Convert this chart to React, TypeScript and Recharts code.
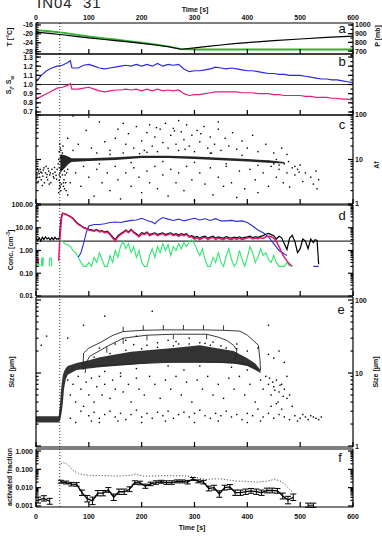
import React from 'react'
import { ComposedChart, Line, Scatter, Area, XAxis, YAxis, ReferenceLine, ErrorBar, LabelList } from 'recharts'

const FONT = '"Liberation Sans", Arial, Helvetica, sans-serif'
const TICK = { fontSize: 7, fontWeight: 700, fill: '#111', fontFamily: FONT }
const AX = { stroke: '#000', strokeWidth: 1.2 }
const M = 14
const THIN = 0.01
const INJECT_T = 45

const X_MAJOR = [0, 100, 200, 300, 400, 500, 600]
const X_MINOR = Array.from({ length: 31 }, (_, i) => i * 20)

// panel a: temperature (left) and pressure (right)
const tempT = [[0, -19.2], [25, -19.8], [50, -20.4], [75, -21.1], [100, -21.8], [125, -22.4], [150, -23.0], [175, -23.6], [200, -24.3], [225, -25.0], [250, -25.8], [275, -26.9], [300, -26.3], [325, -25.6], [350, -25.0], [375, -24.4], [400, -23.9], [450, -23.0], [500, -22.3], [550, -21.6], [600, -21.0]]
const pressP = [[0, 942], [25, 928], [50, 912], [75, 890], [100, 868], [125, 850], [150, 833], [175, 815], [200, 797], [225, 778], [250, 755], [275, 722], [300, 718], [600, 718]]
const T_TICKS = [-28, -24, -20, -16]
const P_TICKS = [700, 800, 900, 1000]

// panel b: saturation ratios
const sIce = [[0, 1.03], [10, 1.1], [20, 1.15], [30, 1.18], [40, 1.2], [50, 1.21], [60, 1.24], [65, 1.26], [68, 1.18], [80, 1.18], [90, 1.21], [100, 1.22], [110, 1.2], [120, 1.18], [130, 1.17], [140, 1.18], [150, 1.19], [160, 1.2], [170, 1.21], [180, 1.2], [190, 1.22], [200, 1.2], [210, 1.22], [220, 1.2], [230, 1.23], [240, 1.2], [250, 1.22], [260, 1.21], [270, 1.22], [280, 1.17], [290, 1.14], [300, 1.15], [310, 1.15], [320, 1.16], [330, 1.17], [340, 1.19], [350, 1.18], [360, 1.17], [370, 1.18], [380, 1.17], [390, 1.16], [400, 1.15], [410, 1.15], [420, 1.14], [430, 1.13], [440, 1.12], [450, 1.12], [460, 1.11], [470, 1.11], [480, 1.1], [500, 1.1], [510, 1.09], [520, 1.08], [530, 1.07], [540, 1.06], [550, 1.06], [560, 1.05], [570, 1.05], [580, 1.04], [590, 1.03], [600, 1.02]]
const sWat = [[0, 0.84], [10, 0.87], [20, 0.9], [30, 0.93], [40, 0.96], [50, 0.97], [60, 0.99], [65, 1.01], [68, 0.95], [80, 0.95], [90, 0.96], [100, 0.97], [110, 0.95], [120, 0.93], [130, 0.92], [140, 0.93], [150, 0.94], [160, 0.94], [170, 0.95], [180, 0.94], [190, 0.95], [200, 0.93], [210, 0.95], [220, 0.93], [230, 0.95], [240, 0.93], [250, 0.94], [260, 0.93], [270, 0.94], [280, 0.9], [290, 0.88], [300, 0.89], [310, 0.89], [320, 0.9], [330, 0.91], [340, 0.92], [380, 0.92], [390, 0.91], [410, 0.91], [420, 0.9], [440, 0.9], [450, 0.89], [460, 0.89], [470, 0.88], [500, 0.88], [510, 0.87], [520, 0.87], [530, 0.86], [550, 0.86], [560, 0.85], [570, 0.85], [580, 0.84], [590, 0.84], [600, 0.83]]
const S_TICKS = [0.7, 0.8, 0.9, 1.0, 1.1, 1.2, 1.3]
const S_MINOR = [0.7, 0.75, 0.8, 0.85, 0.9, 0.95, 1.0, 1.05, 1.1, 1.15, 1.2, 1.25, 1.3]

// panel c: asphericity factor
const afCore = [[46, 5, 13], [49, 5.5, 13], [55, 6.5, 12.5], [62, 8, 11.5], [67, 8.8, 10.6], [100, 9.3, 10.7], [150, 9.8, 11.2], [200, 10.8, 12.2], [250, 10.8, 12.2], [300, 10.3, 11.7], [350, 9.6, 10.9], [400, 9, 10.2], [440, 8.5, 9.6], [470, 8.1, 8.8]]
const afDots = [[2, 4.5], [4, 3.2], [5, 5.5], [7, 4], [8, 6], [10, 3.5], [11, 5], [13, 4.2], [15, 6.5], [16, 3], [18, 5], [20, 4], [22, 3.5], [24, 5.5], [26, 4.5], [28, 3], [30, 6], [32, 4.8], [34, 3.8], [36, 5.2], [38, 4.4], [40, 6], [12, 2.6], [25, 2.8], [1, 3.8], [19, 7], [6, 4.8], [14, 5.8], [21, 4.6], [27, 5], [33, 4.1], [39, 3.6], [3, 6.2], [9, 5.2], [23, 6.3], [35, 6.6],
  [43, 1.8], [44, 2.2], [45, 2.6], [44, 3.4], [46, 4], [45, 5], [47, 6], [44, 15], [46, 18], [45, 22], [48, 12], [47, 2.0], [52, 2.5], [53, 3.5], [54, 2.2], [55, 4.5], [50, 14], [51, 20], [42, 8], [43, 10], [56, 3], [57, 2], [60, 1.6], [58, 5], [44, 6.5], [45, 9], [46, 11], [44, 4.5], [45, 3], [46, 2.4], [47, 16], [50, 4.5], [52, 3], [54, 5.5], [48, 2.8],
  [60, 30], [70, 16], [80, 22], [95, 45], [105, 18], [115, 14], [120, 70], [130, 25], [140, 16], [150, 30], [155, 48], [165, 14], [170, 22], [175, 38], [185, 18], [190, 55], [200, 26], [205, 16], [210, 40], [215, 60], [220, 20], [225, 32], [230, 15], [235, 48], [240, 24], [245, 65], [250, 18], [255, 35], [260, 50], [265, 22], [270, 16], [275, 42], [280, 28], [285, 60], [290, 20], [295, 35], [300, 15], [305, 45], [310, 25], [318, 55], [325, 18], [330, 32], [338, 22], [345, 48], [350, 16], [358, 30], [365, 20], [372, 40], [380, 17], [390, 26], [400, 18], [410, 35], [420, 15], [435, 22], [450, 14], [465, 18], [475, 13], [165, 65], [345, 70], [270, 75], [100, 90], [70, 95], [228, 52], [262, 44], [312, 38], [282, 17], [196, 13.5], [332, 14],
  [60, 6], [65, 3], [75, 5], [85, 2.5], [90, 7], [100, 4], [110, 1.5], [115, 6], [125, 3], [135, 5], [140, 2], [150, 7], [155, 3.5], [160, 1.3], [170, 5], [180, 2.5], [185, 6.5], [195, 4], [200, 1.8], [210, 5.5], [215, 3], [225, 7], [230, 2.2], [240, 4.5], [250, 1.5], [255, 6], [265, 3], [270, 5], [280, 2], [285, 7], [295, 3.5], [300, 1.2], [310, 5], [320, 2.8], [330, 6.5], [335, 1.6], [345, 4], [355, 2.5], [360, 7], [370, 3], [380, 1.4], [385, 5.5], [395, 2.2], [405, 6], [415, 3.5], [420, 1.8], [430, 5], [440, 2.5], [445, 7], [455, 4], [460, 6], [468, 3], [475, 5], [480, 2.4], [490, 4.5], [495, 6], [505, 3.2], [510, 5], [520, 4], [525, 2.8], [530, 5.5], [535, 3.5], [532, 2.2], [490, 7], [500, 7.5],
  [440, 9], [450, 8], [455, 10], [460, 7.5], [470, 8], [478, 9], [485, 6.5], [498, 5.2], [120, 8], [180, 8.5], [240, 9], [300, 8.6], [360, 8], [420, 7.4], [140, 13], [210, 14.5], [330, 13.8], [390, 12.4]]

// panel d: number concentrations
const concBlack = [[0, 3.5], [3, 2.8], [6, 3.6], [9, 2.6], [12, 3.8], [15, 3.0], [18, 4.0], [21, 3.2], [24, 3.6], [27, 2.9], [30, 3.7], [33, 3.0], [36, 3.8], [39, 3.1], [42, 3.4], [44, 3.0], [46, 12], [48, 30], [50, 44], [55, 41], [60, 36], [65, 31], [70, 26], [75, 19], [80, 15], [85, 12.5], [90, 10.5], [95, 9.5], [100, 8.5], [105, 8], [110, 7.5], [115, 8.5], [120, 7], [125, 7.5], [130, 6.5], [135, 7], [140, 5.5], [145, 4], [150, 3], [155, 4.5], [160, 5.5], [165, 6.5], [170, 8], [175, 6.5], [180, 8.5], [185, 6.5], [190, 5.5], [195, 4.5], [200, 6], [205, 5.5], [210, 6.5], [215, 5], [220, 5.5], [225, 6], [230, 5], [235, 5.5], [240, 6], [245, 5], [250, 5.5], [255, 6], [260, 5], [265, 5.5], [270, 4.8], [275, 5.5], [280, 5], [285, 5.5], [290, 4.2], [295, 4.5], [300, 3.8], [305, 4.2], [310, 3.5], [315, 4], [320, 4.3], [325, 3.5], [330, 3.9], [335, 4.3], [340, 3.5], [345, 4], [350, 3.7], [355, 3.5], [360, 4.1], [365, 3.7], [370, 3.5], [375, 3.9], [380, 3.6], [385, 4], [390, 3.5], [395, 3.8], [400, 4], [405, 4.3], [410, 3.7], [415, 4], [420, 3.8], [425, 4.2], [430, 4.5], [435, 5.2], [440, 5.6], [445, 5], [450, 4.5], [455, 3.2], [460, 4.2], [465, 3.6], [470, 2], [475, 1.1], [480, 3.5], [485, 4.6], [490, 2.5], [495, 0.8], [500, 1.2], [505, 3.2], [510, 2.6], [515, 1.2], [520, 3.2], [525, 2.2], [528, 3], [532, 2.8], [535, 0.25]]
const concPink = [[43, 0.35], [45, 3], [48, 20], [50, 43], [55, 40], [60, 35], [65, 30], [70, 25], [75, 18], [80, 14], [85, 12], [90, 10], [95, 9], [100, 8], [105, 7.5], [110, 7], [115, 8], [120, 6.5], [125, 7], [130, 6], [135, 6.5], [140, 5], [145, 3.5], [150, 2.6], [155, 4], [160, 5], [165, 6], [170, 7.5], [175, 6], [180, 8], [185, 6], [190, 5], [195, 4], [200, 5.5], [205, 5], [210, 6], [215, 4.5], [220, 5], [225, 5.5], [230, 4.5], [235, 5], [240, 5.5], [245, 4.5], [250, 5], [255, 5.5], [260, 4.5], [265, 5], [270, 4.2], [275, 5], [280, 4.5], [285, 5], [290, 3.8], [295, 4], [300, 3.2], [305, 3.6], [310, 3], [315, 3.5], [320, 3.8], [325, 3], [330, 3.4], [335, 3.8], [340, 3], [345, 3.5], [350, 3.2], [355, 3], [360, 3.6], [365, 3.2], [370, 3], [375, 3.4], [380, 3.1], [385, 3.5], [390, 3], [395, 3.3], [400, 3.5], [405, 3.8], [410, 3.2], [415, 3.5], [420, 3.3], [425, 3.6], [430, 3.4], [435, 4], [440, 4.2], [445, 4], [450, 3.5], [455, 2.5], [460, 1.5], [465, 0.8], [470, 0.5], [475, 0.35], [480, 0.25], [485, 0.2]]
const concPinkEarly = [[1, 0.3], [2, 0.5], [4, 0.25], [5, 0.45]]
const concBlue = [[80, 0.5], [85, 0.8], [90, 2], [95, 6], [100, 12], [110, 14], [120, 14], [130, 15], [140, 17], [150, 18], [160, 17], [170, 19], [180, 21], [190, 22], [200, 26], [210, 21], [220, 18], [225, 15], [230, 20], [240, 28], [250, 24], [260, 21], [270, 24], [280, 20], [290, 23], [300, 26], [310, 22], [320, 25], [330, 21], [340, 25], [350, 20], [360, 20], [370, 21], [380, 19], [390, 20], [400, 17], [410, 12], [420, 8], [430, 6], [440, 4], [450, 2], [460, 1], [470, 0.7], [475, 0.6], [476, null], [525, 0.2], [535, 0.2]]
const concGreen = [[2, 0.2], [3, 0.5], [5, 0.3], [6, 0.2], [7, null], [10, 0.2], [11, 0.5], [13, 0.2], [14, 0.5], [15, null], [25, 0.2], [26, 0.45], [29, 0.45], [30, 0.2], [31, null],
  [45, 3.0], [50, 2.5], [55, 2.0], [60, 1.8], [65, 1.5], [70, 1.0], [75, 0.8], [80, 0.5], [85, 0.3], [90, 0.2], [95, 0.2], [100, 0.3], [105, 0.2], [110, 0.5], [115, 0.3], [120, 0.8], [125, 0.4], [130, 0.2], [135, 0.2], [140, 0.6], [145, 0.3], [150, 1.0], [155, 0.5], [160, 1.5], [165, 2.5], [170, 1.2], [175, 2.0], [180, 0.8], [185, 1.5], [190, 0.5], [195, 1.0], [200, 0.3], [205, 0.2], [210, 0.2], [215, 0.6], [220, 1.2], [225, 0.5], [230, 1.5], [235, 0.8], [240, 2.0], [245, 1.0], [250, 1.8], [255, 0.6], [260, 1.5], [265, 1.0], [270, 2.0], [275, 1.2], [280, 2.2], [285, 1.5], [290, 2.5], [295, 3.0], [300, 2.0], [305, 1.0], [310, 0.6], [315, 1.2], [320, 0.4], [325, 0.2], [330, 0.2], [335, 0.5], [340, 0.3], [345, 0.8], [350, 0.3], [355, 0.2], [360, 0.6], [365, 1.2], [370, 0.4], [375, 0.2], [380, 0.3], [385, 1.0], [390, 0.4], [395, 0.2], [400, 0.5], [405, 1.5], [410, 0.8], [415, 0.3], [420, 0.5], [425, 1.2], [430, 0.6], [435, 0.8], [440, 0.4], [445, 0.3], [450, 0.6], [455, 0.3], [460, 0.2], [465, 0.2], [470, 0.2], [475, 0.3], [480, 0.2]]
const CONC_THRESH = 2.6

// panel e: particle size
const sizeCore = [[0, 2.1, 2.55], [43, 2.1, 2.55], [45, 2.2, 3.5], [47, 2.5, 5.5], [49, 3, 7.5], [51, 4, 9.5], [53, 6, 10.5], [56, 8, 11.5], [60, 9.5, 12.5], [77, 11, 13.7], [100, 11.5, 15], [121, 12, 16.5], [150, 12.5, 18], [180, 13, 19.5], [216, 13.7, 20.6], [260, 14, 22], [310, 14, 24], [340, 13.8, 22], [374, 13.5, 20], [400, 12.5, 16], [415, 11, 13.5], [425, 10, 11]]
const sizeOuter = [[89, 11], [90, 18.7], [100, 22], [121, 26], [146, 33], [165, 37], [203, 38.5], [241, 39], [279, 39], [317, 39], [355, 38.5], [386, 37.5], [400, 33], [411, 28], [421, 24], [424, 15], [425, 11]]
const outerUp = [0, 0, 0, 0, 0, 6, 6.5, 6.5, 6.5, 6.5, 6.5, 0, 0, 0, 0, 0, 0]
const sizeInner = [[93, 10], [95, 14], [102, 17], [134, 23], [165, 30], [210, 33], [260, 34], [323, 34], [345, 31], [361, 28], [374, 24], [380, 20.6], [379, 17], [376, 15]]
const innerDown = [0, 0, 0, 4, 5, 5, 5, 5, 0, 0, 0, 0, 0, 0]
const sizeLower = [[97, 12.5], [150, 13], [200, 13.5], [250, 14], [300, 14], [350, 14], [390, 13.5], [410, 12.5], [420, 11]]
const sizeDots = [[60, 30], [90, 45], [120, 22], [130, 60], [150, 25], [170, 28], [190, 32], [210, 24], [230, 26], [250, 28], [270, 25], [290, 30], [310, 26], [330, 24], [360, 22], [380, 25], [400, 20], [420, 22], [440, 18], [450, 16], [460, 20], [470, 14], [20, 32], [10, 24], [220, 70], [440, 45], [265, 27], [335, 26.5], [185, 24.5],
  [60, 8], [65, 5], [70, 7], [75, 4], [80, 9], [85, 6], [90, 3.5], [95, 7.5], [100, 5], [105, 8.5], [110, 4], [115, 6.5], [120, 9], [125, 5], [130, 7], [140, 4.5], [145, 8], [150, 6], [160, 9], [165, 5.5], [175, 7], [180, 4], [190, 8.5], [195, 6], [205, 5], [215, 9], [225, 7], [235, 4.5], [245, 8], [255, 6], [265, 9], [275, 5], [285, 7.5], [295, 4], [305, 8], [315, 6], [325, 9], [335, 5], [345, 7], [355, 4.5], [365, 8.5], [375, 6], [385, 9], [395, 5], [405, 7], [415, 4], [425, 8], [430, 6], [435, 9], [440, 7], [445, 5], [450, 6.5], [455, 8], [460, 5.5], [465, 7], [470, 6], [475, 4.5], [480, 5], [485, 3.5], [475, 9], [458, 4], [448, 7.5], [452, 5.8], [462, 6.8], [468, 4.8], [442, 8.5],
  [100, 2.6], [110, 2.9], [120, 2.4], [130, 2.7], [140, 3], [150, 2.5], [160, 2.8], [170, 2.3], [180, 2.7], [190, 3.1], [200, 2.5], [210, 2.8], [220, 2.4], [230, 2.9], [240, 2.6], [250, 3], [260, 2.4], [270, 2.7], [280, 2.9], [290, 2.5], [300, 2.8], [310, 3.1], [320, 2.6], [330, 2.4], [340, 2.8], [350, 2.6], [360, 3], [370, 2.5], [380, 2.7], [390, 2.3], [400, 2.8], [410, 2.6], [420, 3.2], [430, 2.5], [440, 2.8], [450, 2.4], [460, 2.7], [470, 2.5], [480, 2.3], [490, 2.6], [500, 2.4], [510, 2.5], [520, 2.6], [530, 2.4], [540, 2.5], [495, 2.2], [505, 2.7], [515, 2.3], [525, 2.5], [535, 2.3], [445, 3.5], [455, 3.8], [465, 3.2], [120, 2.1], [200, 2.1], [300, 2.1], [400, 2.1], [65, 2.4], [75, 2.1], [85, 3], [105, 2.2], [155, 2.2], [245, 2.2], [345, 2.2], [425, 2.2],
  [110, 16.5], [140, 18.5], [170, 20.5], [200, 21.5], [230, 22.5], [260, 23.5], [290, 25], [320, 25.5], [350, 23.5], [380, 21.5], [130, 10.5], [190, 11.5], [250, 12.5], [310, 12.5], [370, 12], [160, 10], [280, 11], [400, 11]]

// panel f: activated fraction
const fracT = [47, 57, 67, 77, 87, 97, 107, 117, 127, 137, 147, 157, 167, 177, 187, 197, 207, 217, 227, 237, 247, 257, 267, 277, 287, 297, 307, 317, 327, 337, 347, 357, 367, 377, 387, 397, 407, 417, 427, 437, 447, 457, 467, 477, 487]
const fracV = [0.021, 0.019, 0.0155, 0.015, 0.0053, 0.0025, 0.0019, 0.005, 0.005, 0.0075, 0.003, 0.006, 0.006, 0.0082, 0.019, 0.018, 0.012, 0.016, 0.019, 0.021, 0.019, 0.019, 0.022, 0.022, 0.02, 0.03, 0.022, 0.02, 0.009, 0.01, 0.0045, 0.01, 0.011, 0.0053, 0.0053, 0.006, 0.0067, 0.006, 0.0053, 0.007, 0.007, 0.0067, 0.0035, 0.0021, 0.003]
const fracErr = [0.2, 0.2, 0.25, 0.25, 0.4, 0.5, 0.6, 0.4, 0.4, 0.35, 0.5, 0.4, 0.4, 0.35, 0.25, 0.25, 0.3, 0.25, 0.25, 0.2, 0.25, 0.25, 0.2, 0.2, 0.25, 0.2, 0.2, 0.25, 0.35, 0.35, 0.5, 0.35, 0.35, 0.4, 0.4, 0.4, 0.35, 0.4, 0.4, 0.35, 0.35, 0.35, 0.45, 0.6, 0.5]
const fracPre = [[4, 0.0021], [15, 0.0026], [26, 0.0018]]
const fracPreErr = [0.45, 0.4, 0.45]
const fracLate = [[515, 0.0011], [525, 0.0011]]
const fracLateErr = [0.3, 0.3]
const fracUpper = [[47, 0.2], [52, 0.23], [58, 0.2], [65, 0.13], [72, 0.08], [80, 0.06], [90, 0.05], [105, 0.047], [120, 0.046], [135, 0.045], [150, 0.043], [165, 0.044], [180, 0.048], [188, 0.055], [195, 0.048], [205, 0.042], [220, 0.043], [240, 0.045], [260, 0.044], [280, 0.045], [295, 0.04], [305, 0.035], [320, 0.028], [335, 0.03], [350, 0.03], [365, 0.026], [380, 0.023], [400, 0.022], [420, 0.02], [435, 0.022], [450, 0.028], [460, 0.025], [470, 0.016], [480, 0.008], [487, 0.0055]]

const pts = (a: any[][]) => a.map(([t, v]) => ({ t, v }))
const rng = (a: number[][]) => a.map(([t, lo, hi]) => ({ t, r: [lo, hi] }))
const errPts = (a: number[][], rel: number[]) => a.map(([t, v], i) => ({ t, v, e: [v - v / (1 + rel[i]), v * rel[i]] }))
const tickPts = (a: number[][], up: number[], down: number[]) => a.map(([t, v], i) => ({ t, v, e: [down[i] || 0, up[i] || 0] }))

const logMinor = (lo: number, hi: number) => {
  const out: number[] = []
  for (let k = lo; k < hi; k++) for (let m = 2; m <= 9; m++) out.push(+(m * Math.pow(10, k)).toPrecision(3))
  return out
}
const range = (a: number, b: number, s: number) => {
  const out: number[] = []
  for (let v = a; v <= b + 1e-9; v += s) out.push(+v.toFixed(3))
  return out
}

const Dot = (p: any) => <rect x={p.cx - 0.7} y={p.cy - 0.7} width={1.4} height={1.4} fill="#000" />
// tick marks only, no text
const NoText = () => <g />

// strip carrying the time tick labels, placed by the same x scale as the panels
function TimeLabels({ top }: { top: number }) {
  return (
    <div style={{ position: 'absolute', left: 0, top }}>
      <ComposedChart width={382} height={10} margin={{ top: 0, bottom: 0, left: 0, right: 0 }}>
        <XAxis xAxisId="x" dataKey="t" type="number" domain={[0, 600]} hide allowDataOverflow />
        <YAxis yAxisId="l" dataKey="v" orientation="left" width={36} type="number" domain={[0, 1]} tick={false} tickLine={false} axisLine={false} />
        <YAxis yAxisId="r" orientation="right" width={29} type="number" domain={[0, 1]} tick={false} tickLine={false} axisLine={false} />
        <Scatter xAxisId="x" yAxisId="l" data={X_MAJOR.map((t) => ({ t, v: 0.5 }))} shape={NoText} fill="#111" stroke="none" isAnimationActive={false}>
          <LabelList dataKey="t" position="center" fontSize={7} fontWeight={700} fill="#111" stroke="none" fontFamily={FONT} style={{ fill: '#111' }} />
        </Scatter>
      </ComposedChart>
    </div>
  )
}

function Panel(props: any) {
  const { top, bottom, domain, log, major, minor, fmt, leftLabels, rightLabels, rDomain, rMajor, rMinor, rFmt, children } = props
  const h = bottom - top
  const yc = { type: 'number' as const, domain, scale: log ? 'log' : 'linear', allowDataOverflow: true, interval: 0 }
  const rc = { type: 'number' as const, domain: rDomain || domain, scale: log ? 'log' : 'linear', allowDataOverflow: true, interval: 0 }
  const xc = { type: 'number' as const, domain: [0, 600], allowDataOverflow: true, interval: 0, height: THIN }
  return (
    <div style={{ position: 'absolute', left: 0, top: top - M }}>
      <ComposedChart width={382} height={h + 2 * M} margin={{ top: M, bottom: M, left: 0, right: 0 }}>
        <XAxis xAxisId="b" dataKey="t" orientation="bottom" mirror {...xc} ticks={X_MAJOR} tick={NoText} tickSize={5} tickLine={AX} axisLine={AX} />
        <XAxis xAxisId="bm" orientation="bottom" mirror {...xc} ticks={X_MINOR} tick={NoText} tickSize={2.5} tickLine={AX} axisLine={false} />
        <XAxis xAxisId="t" orientation="top" mirror {...xc} ticks={X_MAJOR} tick={NoText} tickSize={5} tickLine={AX} axisLine={AX} />
        <XAxis xAxisId="tm" orientation="top" mirror {...xc} ticks={X_MINOR} tick={NoText} tickSize={2.5} tickLine={AX} axisLine={false} />
        <YAxis yAxisId="l" dataKey="v" orientation="left" mirror width={THIN} {...yc} ticks={major} tick={NoText} tickSize={5} tickLine={AX} axisLine={AX} />
        <YAxis yAxisId="lm" orientation="left" mirror width={THIN} {...yc} ticks={minor} tick={NoText} tickSize={2.5} tickLine={AX} axisLine={false} />
        <YAxis yAxisId="r" dataKey="v" orientation="right" mirror width={THIN} {...rc} ticks={rMajor || major} tick={NoText} tickSize={5} tickLine={AX} axisLine={AX} />
        <YAxis yAxisId="rm" orientation="right" mirror width={THIN} {...rc} ticks={rMinor || minor} tick={NoText} tickSize={2.5} tickLine={AX} axisLine={false} />
        <YAxis yAxisId="ll" orientation="left" width={36} {...yc} ticks={major} tick={leftLabels ? TICK : false} tickFormatter={fmt} tickLine={false} axisLine={false} tickSize={0} tickMargin={3} />
        <YAxis yAxisId="rl" orientation="right" width={29} {...rc} ticks={rMajor || major} tick={rightLabels ? TICK : false} tickFormatter={rFmt || fmt} tickLine={false} axisLine={false} tickSize={0} tickMargin={2} />
        <ReferenceLine xAxisId="b" yAxisId="l" x={INJECT_T} stroke="#000" strokeWidth={0.8} strokeDasharray="1 2" />
        {children}
      </ComposedChart>
    </div>
  )
}

const ser = { xAxisId: 'b', yAxisId: 'l', dot: false, isAnimationActive: false, type: 'linear' as const }

function Txt({ x, y, rot, size = 7, bold = true, children }: any) {
  return (
    <div style={{ position: 'absolute', left: x, top: y, transform: `translate(-50%, -50%)${rot ? ' rotate(-90deg)' : ''}`, whiteSpace: 'nowrap', fontFamily: FONT, fontSize: size, fontWeight: bold ? 700 : 400, color: '#111', lineHeight: 1 }}>
      {children}
    </div>
  )
}

export default function App() {
  return (
    <div style={{ position: 'absolute', left: 0, top: 0, width: 382, height: 556, background: '#fff', overflow: 'hidden' }}>
      <div style={{ position: 'absolute', left: 37, top: -6, fontFamily: FONT, fontSize: 15, color: '#222', whiteSpace: 'pre', letterSpacing: 1 }}>IN04  31</div>

      <TimeLabels top={13} />
      <TimeLabels top={512} />

      <Panel top={23} bottom={54} domain={[-29.05, -15.1]} major={T_TICKS} minor={range(-29, -15, 1)} fmt={(v: number) => String(v)} leftLabels
        rDomain={[666, 1023]} rMajor={P_TICKS} rMinor={range(650, 1000, 50)} rFmt={(v: number) => String(v)} rightLabels>
        <Line {...ser} yAxisId="r" data={pts(pressP)} dataKey="v" stroke="#2fb02f" strokeWidth={1.8} />
        <Line {...ser} data={pts(tempT)} dataKey="v" stroke="#000" strokeWidth={1.2} />
      </Panel>

      <Panel top={54} bottom={115} domain={[0.667, 1.333]} major={S_TICKS} minor={S_MINOR} fmt={(v: number) => v.toFixed(1)} leftLabels>
        <ReferenceLine xAxisId="b" yAxisId="l" y={1.0} stroke="#333" strokeWidth={1.2} />
        <Line {...ser} data={pts(sIce)} dataKey="v" stroke="#2a2ae6" strokeWidth={1.2} />
        <Line {...ser} data={pts(sWat)} dataKey="v" stroke="#e41c7c" strokeWidth={1.2} />
      </Panel>

      <Panel top={115} bottom={204} log domain={[1, 100]} major={[1, 10, 100]} minor={logMinor(0, 2)} fmt={(v: number) => String(v)} rightLabels>
        <Area xAxisId="b" yAxisId="l" data={rng(afCore)} dataKey="r" stroke="none" fill="#000" fillOpacity={0.85} isAnimationActive={false} />
        <Scatter xAxisId="b" yAxisId="l" data={pts(afDots)} shape={Dot} isAnimationActive={false} />
      </Panel>

      <Panel top={205} bottom={296} log domain={[0.01, 100]} major={[0.01, 0.1, 1, 10, 100]} minor={logMinor(-2, 2)} fmt={(v: number) => v.toFixed(2)} leftLabels>
        <ReferenceLine xAxisId="b" yAxisId="l" y={CONC_THRESH} stroke="#333" strokeWidth={1.2} />
        <Line {...ser} data={pts(concGreen)} dataKey="v" stroke="#2ee86e" strokeWidth={1.1} />
        <Line {...ser} data={pts(concBlue)} dataKey="v" stroke="#2a2ae6" strokeWidth={1.1} />
        <Line {...ser} data={pts(concBlack)} dataKey="v" stroke="#000" strokeWidth={1.2} />
        <Line {...ser} data={pts(concPink)} dataKey="v" stroke="#e01870" strokeWidth={1.5} />
        <Line {...ser} data={pts(concPinkEarly)} dataKey="v" stroke="#e01870" strokeWidth={1.2} />
      </Panel>

      <Panel top={297} bottom={447} log domain={[0.97, 110]} major={[1, 10, 100]} minor={logMinor(0, 2)} fmt={(v: number) => String(v)} rightLabels>
        <Area xAxisId="b" yAxisId="l" data={rng(sizeCore)} dataKey="r" stroke="none" fill="#000" fillOpacity={0.8} isAnimationActive={false} />
        <Scatter xAxisId="b" yAxisId="l" data={pts(sizeDots)} shape={Dot} isAnimationActive={false} />
        <Line {...ser} data={pts(sizeLower)} dataKey="v" stroke="#222" strokeWidth={0.9} />
        <Line {...ser} data={tickPts(sizeOuter, outerUp, [])} dataKey="v" stroke="#222" strokeWidth={0.9}>
          <ErrorBar dataKey="e" width={0} stroke="#222" strokeWidth={0.9} direction="y" />
        </Line>
        <Line {...ser} data={tickPts(sizeInner, [], innerDown)} dataKey="v" stroke="#222" strokeWidth={0.9}>
          <ErrorBar dataKey="e" width={0} stroke="#222" strokeWidth={0.9} direction="y" />
        </Line>
      </Panel>

      <Panel top={449} bottom={507} log domain={[0.00088, 1.29]} major={[0.001, 0.01, 0.1, 1]} minor={logMinor(-3, 0)} fmt={(v: number) => v.toFixed(3)} leftLabels>
        <Line {...ser} data={pts(fracUpper)} dataKey="v" stroke="#333" strokeWidth={1} strokeDasharray="1 2" />
        <Line {...ser} data={errPts(fracT.map((t, i) => [t, fracV[i]]), fracErr)} dataKey="v" stroke="#000" strokeWidth={1.3}>
          <ErrorBar dataKey="e" width={3} stroke="#000" strokeWidth={1} direction="y" />
        </Line>
        <Line {...ser} data={errPts(fracPre, fracPreErr)} dataKey="v" stroke="#000" strokeWidth={1.2}>
          <ErrorBar dataKey="e" width={3} stroke="#000" strokeWidth={1} direction="y" />
        </Line>
        <Line {...ser} data={errPts(fracLate, fracLateErr)} dataKey="v" stroke="#000" strokeWidth={1}>
          <ErrorBar dataKey="e" width={3} stroke="#000" strokeWidth={1} direction="y" />
        </Line>
      </Panel>

      <Txt x={195} y={9}>Time [s]</Txt>
      <Txt x={192} y={527}>Time [s]</Txt>
      <Txt x={9} y={37} rot>T [°C]</Txt>
      <Txt x={10} y={85} rot>S<sub style={{ fontSize: 5 }}>i</sub>, S<sub style={{ fontSize: 5 }}>w</sub></Txt>
      <Txt x={10} y={250} rot>Conc. [cm<sup style={{ fontSize: 5 }}>-3</sup>]</Txt>
      <Txt x={11} y={372} rot>Size [μm]</Txt>
      <Txt x={9} y={477} rot>activated fraction</Txt>
      <Txt x={377} y={36} rot>P [mb]</Txt>
      <Txt x={376} y={165} rot>Af</Txt>
      <Txt x={375} y={372} rot>Size [μm]</Txt>
      <Txt x={342} y={28} size={13} bold={false}>a</Txt>
      <Txt x={342} y={61} size={13} bold={false}>b</Txt>
      <Txt x={342} y={124} size={13} bold={false}>c</Txt>
      <Txt x={342} y={215} size={13} bold={false}>d</Txt>
      <Txt x={341} y={309} size={13} bold={false}>e</Txt>
      <Txt x={340} y={457} size={13} bold={false}>f</Txt>
    </div>
  )
}
